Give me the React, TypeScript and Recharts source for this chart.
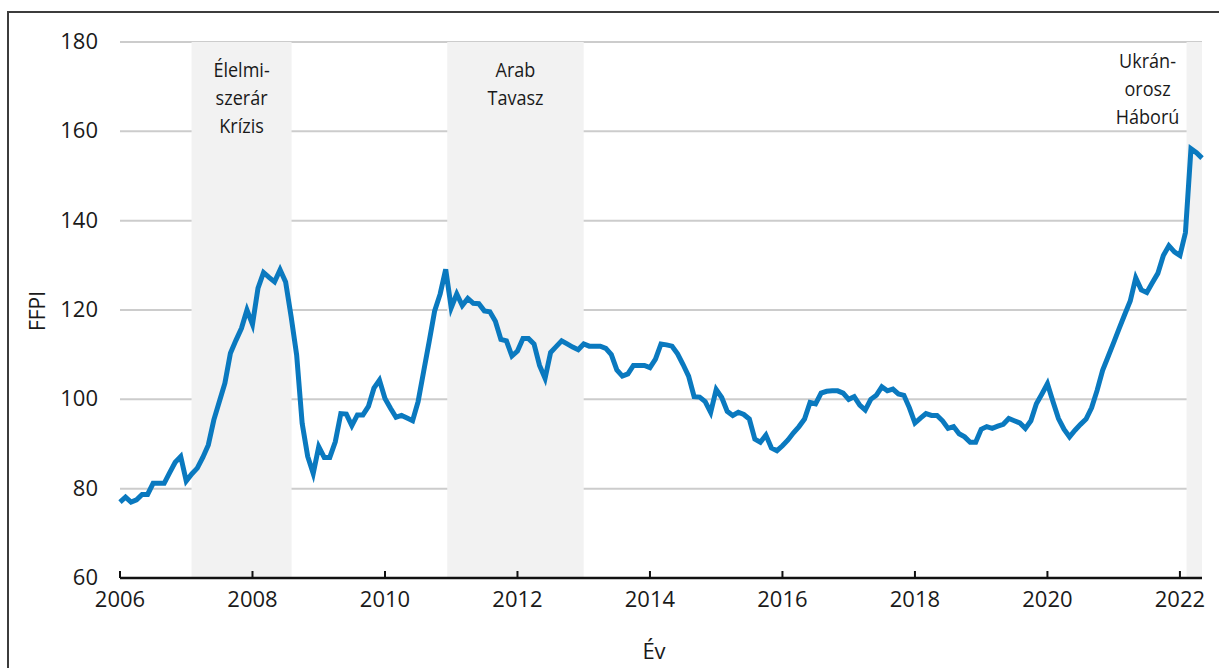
import React from 'react';
import {
  LineChart, Line, XAxis, YAxis, CartesianGrid, ReferenceArea, Label,
} from 'recharts';

// FAO élelmiszerár-index (FFPI), havi adatok 2006 januártól 2022 májusig
const startYear = 2006;
const ffpi2006 = [77.0, 78.1, 77.0, 77.5, 78.7, 78.7, 81.2, 81.2, 81.2, 83.6, 85.9, 87.2];
const ffpi2007 = [81.7, 83.3, 84.6, 87.0, 89.8, 95.4, 99.5, 103.6, 110.3, 113.2, 115.9, 120.0];
const ffpi2008 = [116.8, 124.9, 128.4, 127.3, 126.3, 129.0, 126.3, 118.5, 109.9, 94.6, 87.2, 83.4];
const ffpi2009 = [89.4, 87.0, 87.0, 90.5, 96.8, 96.7, 94.1, 96.5, 96.5, 98.4, 102.5, 104.3];
const ffpi2010 = [100.2, 98.0, 96.0, 96.4, 95.8, 95.2, 99.5, 106.2, 112.9, 119.8, 123.6, 129.1];
const ffpi2011 = [120.5, 123.6, 121.0, 122.6, 121.5, 121.4, 119.8, 119.6, 117.5, 113.4, 113.1, 109.7];
const ffpi2012 = [110.8, 113.6, 113.6, 112.4, 107.6, 104.7, 110.5, 111.8, 113.1, 112.4, 111.7, 111.1];
const ffpi2013 = [112.4, 111.9, 111.9, 111.9, 111.4, 110.0, 106.6, 105.2, 105.7, 107.6, 107.6, 107.6];
const ffpi2014 = [107.1, 109.0, 112.4, 112.2, 111.9, 110.2, 107.8, 105.2, 100.6, 100.5, 99.5, 97.1];
const ffpi2015 = [102.2, 100.4, 97.3, 96.4, 97.1, 96.6, 95.6, 91.1, 90.4, 92.0, 89.1, 88.5];
const ffpi2016 = [89.6, 90.9, 92.5, 93.9, 95.6, 99.3, 99.0, 101.4, 101.8, 101.9, 101.9, 101.4];
const ffpi2017 = [100.0, 100.6, 98.7, 97.6, 100.0, 100.9, 102.8, 101.9, 102.3, 101.2, 100.9, 98.1];
const ffpi2018 = [94.7, 95.8, 96.8, 96.4, 96.4, 95.2, 93.5, 93.9, 92.3, 91.6, 90.4, 90.4];
const ffpi2019 = [93.3, 93.9, 93.5, 94.0, 94.4, 95.7, 95.2, 94.7, 93.5, 95.2, 99.0, 101.2];
const ffpi2020 = [103.5, 99.5, 95.7, 93.3, 91.6, 93.1, 94.4, 95.6, 98.1, 102.0, 106.5, 109.6];
const ffpi2021 = [112.7, 115.9, 119.0, 122.0, 127.2, 124.5, 123.9, 126.1, 128.2, 132.2, 134.4, 133.0];
const ffpi2022 = [132.2, 137.3, 156.1, 155.2, 154.0];

const yearlyValues = [
  ffpi2006, ffpi2007, ffpi2008, ffpi2009, ffpi2010, ffpi2011, ffpi2012, ffpi2013, ffpi2014,
  ffpi2015, ffpi2016, ffpi2017, ffpi2018, ffpi2019, ffpi2020, ffpi2021, ffpi2022,
];

const xTicks = [2006, 2008, 2010, 2012, 2014, 2016, 2018, 2020, 2022];
const yTicks = [60, 80, 100, 120, 140, 160, 180];

// válságidőszakok (szürke sávok)
const periodStarts = [2007.08, 2010.94, 2022.1];
const periodEnds = [2008.59, 2013.0, 2022 + 4 / 12];
const periodLabels = [
  ['Élelmi-', 'szerár', 'Krízis'],
  ['Arab', 'Tavasz'],
  ['Ukrán-', 'orosz', 'Háború'],
];

const data = yearlyValues.flatMap((vals, yi) =>
  vals.map((v, m) => ({ t: startYear + yi + m / 12, ffpi: v })),
);

const tickFont = '"Open Sans", "Noto Sans", sans-serif';
const textFont = '"Open Sans", "Noto Sans", sans-serif';
const textColor = '#1a1a1a';

function XTick(props: any) {
  const { x, y, payload } = props;
  return (
    <g>
      <line x1={x} x2={x} y1={y - 7} y2={y} stroke="#111" strokeWidth={2} />
      <text x={x} y={y + 29} textAnchor="middle" fontSize={22} fontFamily={tickFont} fill={textColor}>
        {payload.value}
      </text>
    </g>
  );
}

function YTick(props: any) {
  const { x, y, payload } = props;
  return (
    <text x={x} y={y + 7} textAnchor="end" fontSize={22} fontFamily={tickFont} fill={textColor}>
      {payload.value}
    </text>
  );
}

function periodLabel(lines: string[]) {
  return (props: any) => {
    const vb = props.viewBox;
    if (!vb) return null;
    // keskeny sávnál a felirat a sáv bal oldalára kerül
    const narrow = vb.width < 60;
    const cx = narrow ? vb.x - 39 : vb.x + vb.width / 2;
    const top = narrow ? vb.y + 26 : vb.y + 35;
    // a referencia betűtípusa keskenyebb, ezért vízszintesen összenyomjuk
    return (
      <g transform={`translate(${cx} 0) scale(0.88 1) translate(${-cx} 0)`}>
        {lines.map((ln, i) => (
          <text key={ln} x={cx} y={top + i * 28} textAnchor="middle" fontSize={20.5}
            fontFamily={textFont} fill={textColor}>
            {ln}
          </text>
        ))}
      </g>
    );
  };
}

function YTitle(props: any) {
  const vb = props.viewBox;
  const cx = vb.x + 45;
  const cy = vb.y + vb.height / 2 + 1;
  return (
    <text x={cx} y={cy} transform={`rotate(-90, ${cx}, ${cy})`} textAnchor="middle"
      fontSize={21} fontFamily={textFont} fill={textColor}>
      FFPI
    </text>
  );
}

function XTitle(props: any) {
  const vb = props.viewBox;
  return (
    <text x={vb.x + vb.width / 2 - 7} y={vb.y + 81} textAnchor="middle"
      fontSize={22} fontFamily={textFont} fill={textColor}>
      Év
    </text>
  );
}

export default function App() {
  return (
    <div style={{ position: 'fixed', left: 0, top: 0, width: 1219, height: 668, overflow: 'hidden', background: '#fff' }}>
      <div style={{
        position: 'absolute', left: 7, top: 11, width: 1240, height: 700,
        border: '2px solid #3c3c3c', boxSizing: 'border-box',
      }} />
      <div style={{ position: 'absolute', left: 0, top: 0 }}>
        <LineChart width={1219} height={668} data={data} margin={{ top: 42, right: 17, bottom: 0, left: 0 }}>
          <CartesianGrid vertical={false} stroke="#cccccc" strokeWidth={2} />
          {periodStarts.map((s, i) => (
            <ReferenceArea
              key={s}
              x1={s}
              x2={periodEnds[i]}
              y1={60}
              y2={180}
              fill="#f2f2f2"
              fillOpacity={1}
              stroke="none"
              ifOverflow="hidden"
              label={periodLabel(periodLabels[i])}
            />
          ))}
          <XAxis
            type="number"
            dataKey="t"
            domain={['dataMin', 'dataMax']}
            ticks={xTicks}
            height={90}
            tickSize={0}
            tickMargin={0}
            tickLine={false}
            axisLine={{ stroke: '#111', strokeWidth: 2.5 }}
            tick={<XTick />}
            interval={0}
          >
            <Label content={<XTitle />} />
          </XAxis>
          <YAxis
            type="number"
            domain={[60, 180]}
            ticks={yTicks}
            width={120}
            tickSize={0}
            tickMargin={22}
            tickLine={false}
            axisLine={false}
            tick={<YTick />}
            interval={0}
          >
            <Label content={<YTitle />} />
          </YAxis>
          <Line
            type="linear"
            dataKey="ffpi"
            stroke="#0a79bf"
            strokeWidth={5}
            dot={false}
            activeDot={false}
            isAnimationActive={false}
          />
        </LineChart>
      </div>
    </div>
  );
}
